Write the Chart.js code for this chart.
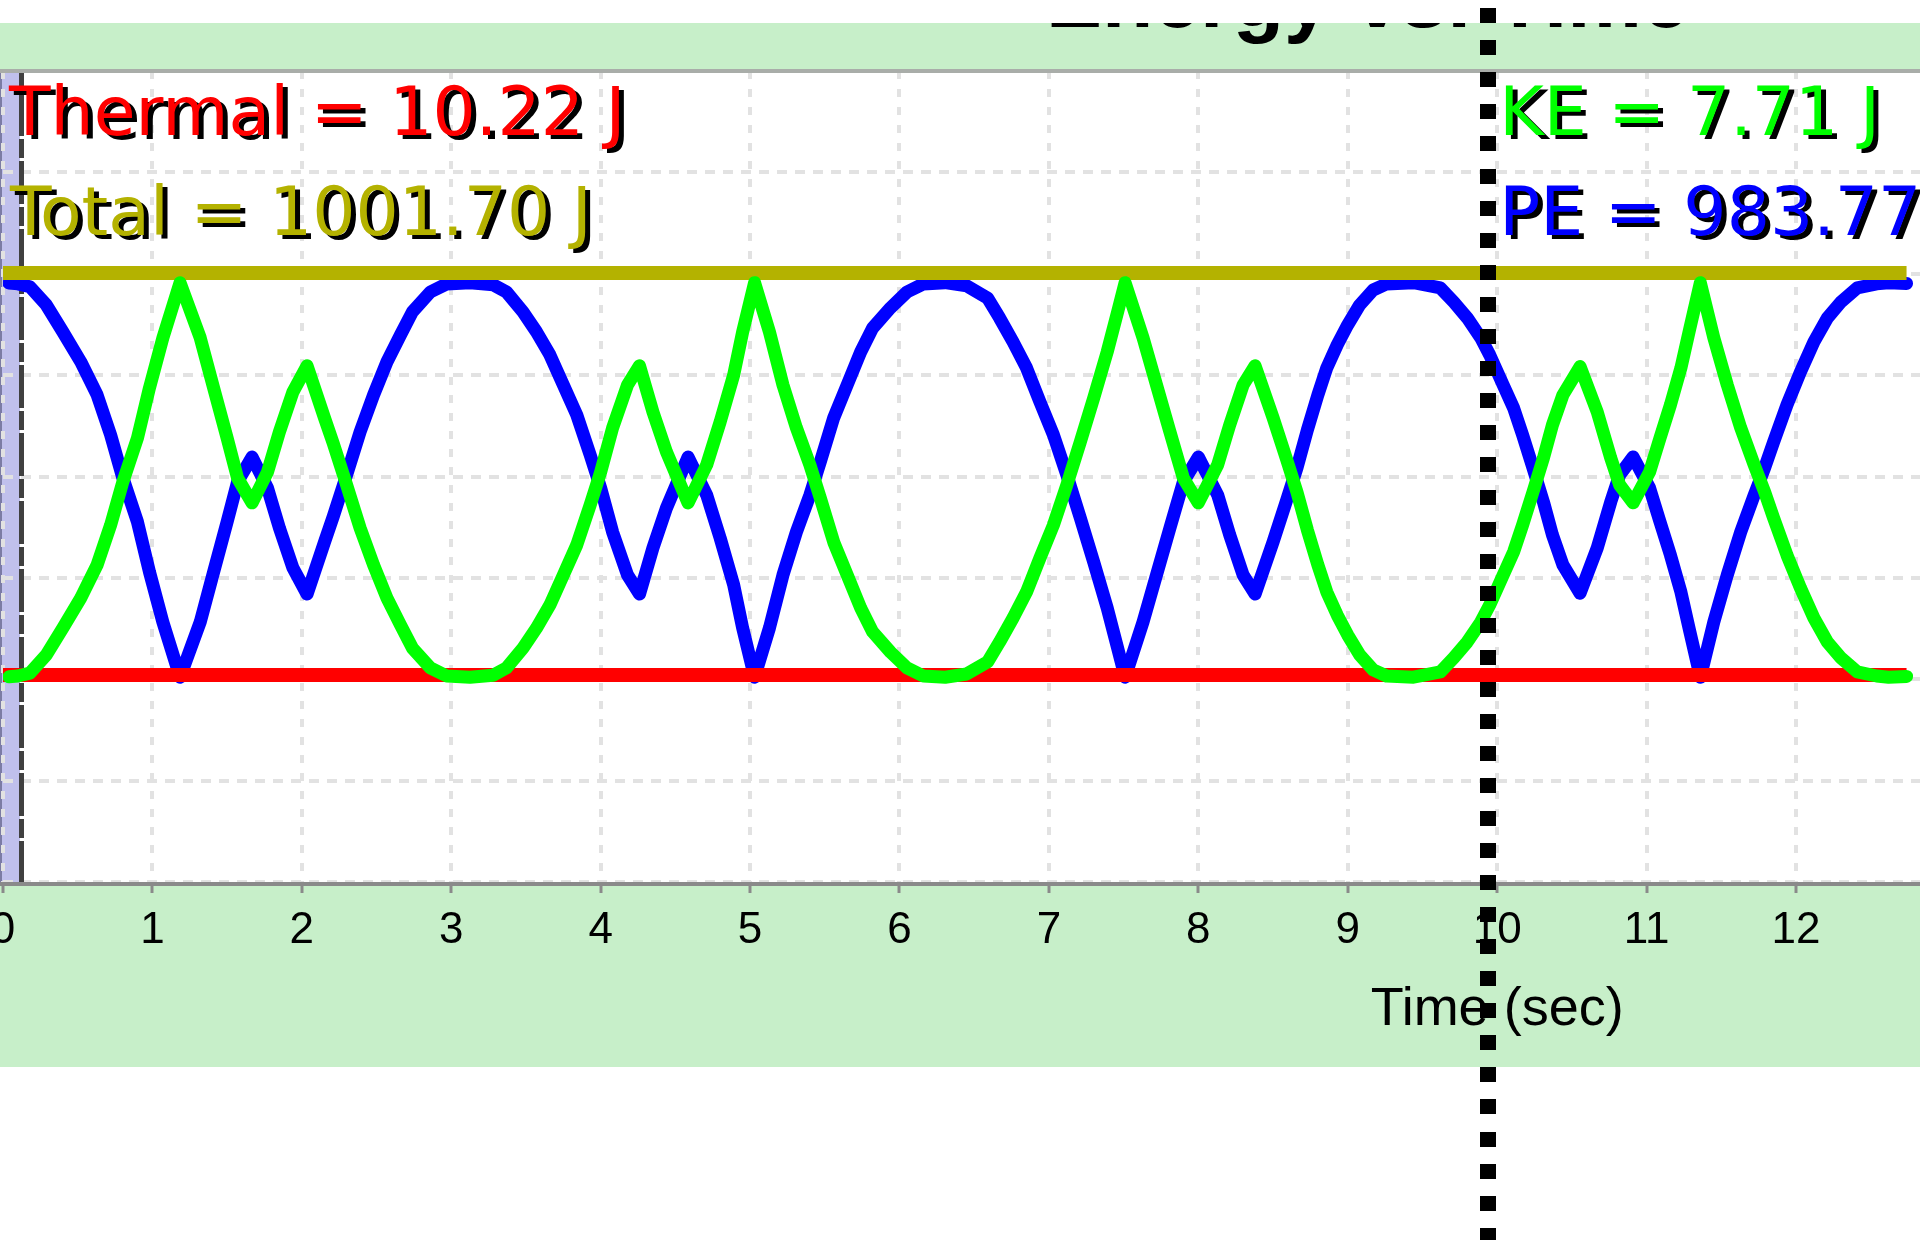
<!DOCTYPE html>
<html>
<head>
<meta charset="utf-8">
<title>Energy vs. Time</title>
<script src="https://cdn.jsdelivr.net/npm/chart.js@4.4.1/dist/chart.umd.min.js"></script>
<style>
  html, body { margin: 0; padding: 0; background: #fff; overflow: hidden; }
  #wrap { width: 1920px; height: 1240px; }
</style>
</head>
<body>
<div id="wrap"><canvas id="energyChart" width="1920" height="1240"></canvas></div>
<script>
// axis ticks: seconds along the bottom, joules for the horizontal grid
const timeTicks = [0, 1, 2, 3, 4, 5, 6, 7, 8, 9, 10, 11, 12];
const energyTicks = [-500, -250, 0, 250, 500, 750, 1000, 1250, 1500];

// sampled run of the skater (s)
const times = [
  0.04, 0.10, 0.18, 0.29, 0.40, 0.52, 0.63, 0.72, 0.80, 0.90, 0.98, 1.07, 1.185,
  1.32, 1.41, 1.50, 1.57, 1.667, 1.77, 1.85, 1.94, 2.035,
  2.155, 2.21, 2.30, 2.39, 2.48, 2.57, 2.66, 2.74, 2.86, 2.97, 3.126,
  3.28, 3.37, 3.48, 3.57, 3.66, 3.75, 3.84, 3.93, 4.00, 4.08, 4.18, 4.26,
  4.35, 4.44, 4.585, 4.71, 4.80, 4.89, 4.95, 5.03,
  5.13, 5.22, 5.31, 5.40, 5.47, 5.56, 5.65, 5.74, 5.82, 5.94, 6.05, 6.16, 6.305,
  6.45, 6.59, 6.67, 6.76, 6.85, 6.94, 7.03, 7.12, 7.21, 7.30, 7.39, 7.46, 7.51,
  7.63, 7.72, 7.81, 7.90, 8.00, 8.13, 8.21, 8.30, 8.38,
  8.50, 8.59, 8.66, 8.73, 8.80, 8.86, 8.93, 9.00, 9.08, 9.17, 9.26, 9.44,
  9.62, 9.71, 9.80, 9.89, 9.95, 10.04, 10.11, 10.17, 10.24, 10.31, 10.37, 10.44, 10.555,
  10.67, 10.76, 10.82, 10.91, 11.02, 11.09, 11.16, 11.23, 11.29, 11.36,
  11.45, 11.54, 11.63, 11.72, 11.79, 11.85, 11.94, 12.03, 12.12, 12.21, 12.30, 12.41, 12.54, 12.62, 12.74
];

// potential energy (J)
const potentialEnergy = [
  977, 975, 968, 923, 857, 783, 701, 603, 499, 388, 265, 141, 5,
  141, 265, 388, 487, 548, 472, 373, 275, 210,
  342, 401, 504, 610, 701, 783, 849, 906, 955, 975, 978,
  973, 955, 906, 857, 800, 726, 652, 553, 472, 363, 257, 210,
  324, 422, 548, 454, 348, 233, 127, 5,
  127, 257, 363, 454, 536, 645, 726, 807, 866, 916, 955, 975, 978,
  970, 940, 891, 832, 768, 684, 603, 504, 398, 289, 176, 77, 5,
  141, 257, 373, 487, 548, 454, 356, 257, 210,
  338, 440, 521, 615, 701, 768, 825, 874, 923, 960, 975, 978,
  965, 930, 891, 842, 800, 726, 669, 603, 521, 437, 356, 282, 212,
  324, 437, 504, 548, 472, 388, 306, 215, 117, 5,
  141, 257, 363, 454, 521, 585, 677, 758, 832, 891, 930, 965, 975, 978, 976
];

// kinetic energy (J)
const kineticEnergy = [
  6, 8, 15, 60, 126, 200, 282, 380, 484, 595, 718, 842, 978,
  842, 718, 595, 496, 435, 511, 610, 708, 773,
  641, 582, 479, 373, 282, 200, 134, 77, 28, 8, 5,
  10, 28, 77, 126, 183, 257, 331, 430, 511, 620, 726, 773,
  659, 561, 435, 529, 635, 750, 856, 978,
  856, 726, 620, 529, 447, 338, 257, 176, 117, 67, 28, 8, 5,
  13, 43, 92, 151, 215, 299, 380, 479, 585, 694, 807, 906, 978,
  842, 726, 610, 496, 435, 529, 627, 726, 773,
  645, 543, 462, 368, 282, 215, 158, 109, 60, 23, 8, 5,
  18, 53, 92, 141, 183, 257, 314, 380, 462, 546, 627, 701, 771,
  659, 546, 479, 435, 511, 595, 677, 768, 866, 978,
  842, 726, 620, 529, 462, 398, 306, 225, 151, 92, 53, 18, 8, 5, 7
];

const thermalEnergy = 10.22;
const totalEnergy = 1001.70;

// live readouts next to the time cursor
const keReadout = 7.71;
const peReadout = 983.77;
const cursorTime = 9.94;

const toPoints = (xs, ys) => xs.map((t, i) => ({ x: t, y: ys[i] }));
const tEnd = times[times.length - 1];
const flatLine = v => [{ x: 0, y: v }, { x: tEnd, y: v }];

const BAND = '#c7efc9';

const panel = {
  id: 'panel',
  beforeDraw(chart) {
    const { ctx, width, height, chartArea: a } = chart;
    ctx.save();
    ctx.fillStyle = '#fff';
    ctx.fillRect(0, 0, width, height);

    // green header and footer bands
    ctx.fillStyle = BAND;
    ctx.fillRect(0, 23, width, a.top - 23);
    ctx.fillRect(0, a.bottom, width, 1067 - a.bottom);

    // graph title, top of it sits under the white strip
    ctx.fillStyle = '#000';
    ctx.font = 'bold 84px "Liberation Sans", Arial, sans-serif';
    ctx.textBaseline = 'alphabetic';
    ctx.textAlign = 'left';
    ctx.fillText('Energy vs. Time', 1046, 27);
    ctx.fillStyle = '#fff';
    ctx.fillRect(0, 0, width, 23);

    // lavender handle strip on the left edge
    ctx.fillStyle = '#c0c0ec';
    ctx.fillRect(0, a.top, 20, a.bottom - a.top);
    ctx.fillStyle = '#7c7ca4';
    ctx.fillRect(0, a.top, 2, a.bottom - a.top);
    ctx.restore();
  },
  beforeDatasetsDraw(chart) {
    const { ctx, chartArea: a } = chart;
    ctx.save();
    ctx.strokeStyle = '#404040';
    ctx.lineWidth = 5;
    ctx.setLineDash([19, 3, 43, 3]);
    ctx.beginPath();
    ctx.moveTo(21.5, a.top);
    ctx.lineTo(21.5, a.bottom);
    ctx.stroke();
    ctx.restore();
  },
  afterDraw(chart) {
    const { ctx, width, height, chartArea: a, scales: { x } } = chart;
    ctx.save();

    // frame: top edge and time axis line
    ctx.fillStyle = '#a9ada9';
    ctx.fillRect(0, a.top - 2, width, 4);
    ctx.fillStyle = '#8a8a8a';
    ctx.fillRect(0, a.bottom, width, 4);

    // axis title, centred on the middle of the 0-20 s window
    ctx.fillStyle = '#000';
    ctx.font = '54px "Liberation Sans", Arial, sans-serif';
    ctx.textAlign = 'center';
    ctx.textBaseline = 'alphabetic';
    ctx.fillText('Time (sec)', x.getPixelForValue(10), 1025);

    const cx = x.getPixelForValue(cursorTime);

    // energy readouts with a hard black drop shadow
    ctx.font = '68px "DejaVu Sans", sans-serif';
    ctx.textAlign = 'left';
    ctx.shadowColor = '#000';
    ctx.shadowOffsetX = 5;
    ctx.shadowOffsetY = 4;
    ctx.shadowBlur = 0;
    const readouts = [
      [`Thermal = ${thermalEnergy.toFixed(2)} J`, '#ff0000', 9, 135],
      [`Total = ${totalEnergy.toFixed(2)} J`, '#b4b200', 10, 235],
      [`KE = ${keReadout.toFixed(2)} J`, '#00ff00', cx + 11, 135],
      [`PE = ${peReadout.toFixed(2)} J`, '#0000ff', cx + 11, 235]
    ];
    readouts.forEach(([text, color, tx, ty]) => {
      ctx.fillStyle = color;
      ctx.fillText(text, tx, ty);
    });
    ctx.shadowColor = 'transparent';

    // dotted time cursor running through the whole panel
    ctx.fillStyle = '#000';
    for (let y = 8; y < height; y += 32.1) {
      ctx.fillRect(Math.round(cx - 8), Math.round(y), 16, 15);
    }
    ctx.restore();
  }
};

const ctx = document.getElementById('energyChart').getContext('2d');
new Chart(ctx, {
  type: 'line',
  data: {
    datasets: [
      { label: 'KE', data: toPoints(times, kineticEnergy), borderColor: '#00ff00', borderWidth: 13, order: 0 },
      { label: 'Total', data: flatLine(totalEnergy), borderColor: '#b4b200', borderWidth: 14, borderCapStyle: 'butt', order: 1 },
      { label: 'Thermal', data: flatLine(thermalEnergy), borderColor: '#ff0000', borderWidth: 14, borderCapStyle: 'butt', order: 2 },
      { label: 'PE', data: toPoints(times, potentialEnergy), borderColor: '#0000ff', borderWidth: 13, order: 3 }
    ]
  },
  options: {
    responsive: false,
    animation: false,
    devicePixelRatio: 1,
    layout: { padding: { left: 3, right: 0, top: 71, bottom: 238 } },
    plugins: {
      legend: { display: false },
      tooltip: { enabled: false },
      title: { display: false }
    },
    elements: {
      point: { radius: 0 },
      line: { tension: 0, fill: false, borderJoinStyle: 'round', borderCapStyle: 'round' }
    },
    scales: {
      x: {
        type: 'linear',
        min: 0,
        max: 12.83,
        afterBuildTicks: s => { s.ticks = timeTicks.map(v => ({ value: v })); },
        afterFit: s => { s.height = 120; s.paddingLeft = 0; s.paddingRight = 0; },
        ticks: {
          font: { family: '"Liberation Sans", Arial, sans-serif', size: 44 },
          color: '#000',
          padding: 11,
          maxRotation: 0,
          autoSkip: false
        },
        grid: { color: '#e2e2e2', lineWidth: 4, tickLength: 11, tickColor: '#8a8a8a', tickWidth: 3 },
        border: { display: false, dash: [8, 10] }
      },
      y: {
        min: -500,
        max: 1500,
        afterBuildTicks: s => { s.ticks = energyTicks.map(v => ({ value: v })); },
        afterFit: s => { s.width = 0; },
        ticks: { display: false },
        grid: { color: '#e2e2e2', lineWidth: 4, drawTicks: false },
        border: { display: false, dash: [10, 8] }
      }
    }
  },
  plugins: [panel]
});
</script>
</body>
</html>
